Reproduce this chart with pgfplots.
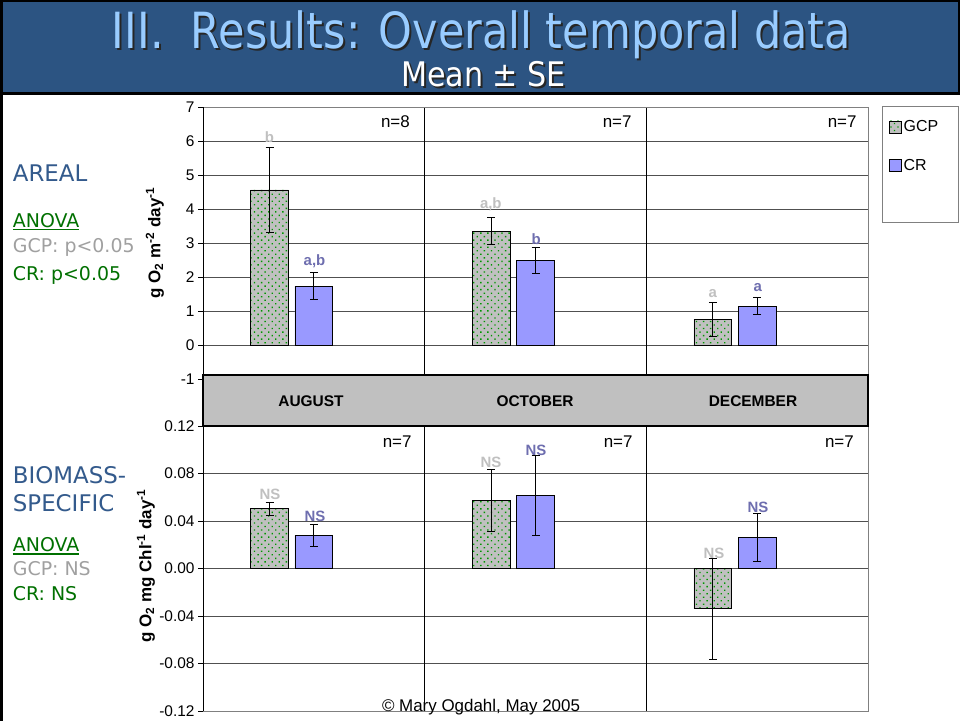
\documentclass[border=0pt]{standalone}
\usepackage{fontspec}
\setmainfont{Liberation Sans}
\newfontfamily\tahoma{DejaVu Sans}
\usepackage{graphicx}
\usepackage{pgfplots}
\pgfplotsset{compat=1.18}
\usetikzlibrary{patterns.meta}

\definecolor{titlebg}{RGB}{44,84,130}
\definecolor{titlefg}{RGB}{153,204,255}
\definecolor{headblue}{RGB}{51,90,140}
\definecolor{anovagreen}{RGB}{0,112,0}
\definecolor{gcptext}{RGB}{160,160,160}
\definecolor{gcplab}{RGB}{192,192,192}
\definecolor{crlab}{RGB}{110,110,175}
\definecolor{gcpfill}{RGB}{192,192,192}
\definecolor{gcpdot}{RGB}{0,150,0}
\definecolor{crfill}{RGB}{153,153,255}
\definecolor{bandgray}{RGB}{192,192,192}
\definecolor{gridc}{RGB}{80,80,80}
\definecolor{boxgray}{RGB}{128,128,128}

\newcommand\anovaline[1]{\setbox0\hbox{#1}\rlap{\rule[-3bp]{\wd0}{1.5bp}}\box0}

\pgfplotsset{
  panel/.style={
    scale only axis, width=665bp,
    xmin=0, xmax=3, xtick=\empty,
    ytick pos=left, tick align=outside, major tick length=5bp,
    tick style={black, line width=0.8bp},
    axis line style={draw=none},
    ymajorgrids, major grid style={gridc, line width=0.8bp},
    clip=false,
    /pgf/number format/assume math mode=true,
    yticklabel style={font=\fontsize{15.5}{16}\selectfont},
    ylabel style={font=\bfseries\fontsize{17}{17}\selectfont, anchor=center},
  },
  sq legend/.style={legend image code/.code={\draw[##1,/tikz/.cd] (0bp,-6bp) rectangle (12bp,6bp);}},
  gcp/.style={ybar, bar width=37.7bp, bar shift=0pt, draw=black, line width=0.8bp,
    fill=gcpfill,
    postaction={pattern={Dots[distance=5bp, radius=0.95bp, angle=45]}, pattern color=gcpdot},
    sq legend,
    error bars/.cd, y dir=both, y explicit,
    error bar style={black, line width=0.8bp},
    error mark options={black, rotate=90, mark size=4bp, line width=0.8bp}},
  cr/.style={ybar, bar width=37.7bp, bar shift=0pt, draw=black, line width=0.8bp,
    fill=crfill, sq legend,
    error bars/.cd, y dir=both, y explicit,
    error bar style={black, line width=0.8bp},
    error mark options={black, rotate=90, mark size=4bp, line width=0.8bp}},
}

\begin{document}
\begin{tikzpicture}
% page frame in pixel-like units, measured from the top-left corner
\begin{scope}[x=1bp, y=-1bp]
\useasboundingbox (0,0) rectangle (960,721);
\fill[white] (0,0) rectangle (960,721);

% title bar
\fill[titlebg] (0,0) rectangle (960,94);
\draw[black, line width=2.5bp] (1.25,1.25) rectangle (958.75,93.5);
\draw[black, line width=2.5bp] (1.5,93) -- (1.5,721);
\node[anchor=base, inner sep=0, text=black!85] at (483.5,51)
  {\resizebox{739bp}{\height}{\tahoma\fontsize{50}{50}\selectfont III.\ \ Results: Overall temporal data}};
\node[anchor=base, inner sep=0, text=titlefg] at (481.5,49)
  {\resizebox{739bp}{\height}{\tahoma\fontsize{50}{50}\selectfont III.\ \ Results: Overall temporal data}};
\node[anchor=base, inner sep=0, text=black!85] at (485.5,89)
  {\resizebox{165bp}{\height}{\tahoma\fontsize{34}{34}\selectfont Mean ± SE}};
\node[anchor=base, inner sep=0, text=white] at (483.5,87)
  {\resizebox{165bp}{\height}{\tahoma\fontsize{34}{34}\selectfont Mean ± SE}};

% side notes
\begin{scope}[every node/.style={anchor=base west, inner sep=0}]
\node[text=headblue, font=\tahoma\fontsize{23}{23}\selectfont] at (12.7,181.7) {AREAL};
\node[text=anovagreen, font=\tahoma\fontsize{19}{20}\selectfont] at (12.7,227.3) {\anovaline{ANOVA}};
\node[text=gcptext, font=\tahoma\fontsize{19}{20}\selectfont] at (12.7,252) {GCP: p<0.05};
\node[text=anovagreen, font=\tahoma\fontsize{19}{20}\selectfont] at (12.7,280.7) {CR: p<0.05};
\node[text=headblue, font=\tahoma\fontsize{23}{23}\selectfont] at (12.7,483.3) {BIOMASS-};
\node[text=headblue, font=\tahoma\fontsize{23}{23}\selectfont] at (12.7,511.7) {SPECIFIC};
\node[text=anovagreen, font=\tahoma\fontsize{19}{20}\selectfont] at (12.7,551.7) {\anovaline{ANOVA}};
\node[text=gcptext, font=\tahoma\fontsize{19}{20}\selectfont] at (12.7,575) {GCP: NS};
\node[text=anovagreen, font=\tahoma\fontsize{19}{20}\selectfont] at (12.7,600) {CR: NS};
\end{scope}

% legend frame
\draw[boxgray, fill=white, line width=1bp] (882.5,107) rectangle (958,222);
\end{scope}

% areal rates
\begin{axis}[panel, at={(203bp,-379bp)}, anchor=south west, height=272bp,
  ymin=-1, ymax=7, ytick={-1,0,1,2,3,4,5,6,7},
  ylabel={g O\textsubscript{2} m\textsuperscript{-2} day\textsuperscript{-1}},
  ylabel style={at={(axis description cs:-0.0722,0.5)}},
  legend style={at={(axis description cs:1.031,0.958)}, anchor=north west,
    draw=none, fill=none, inner sep=0pt, row sep=22bp,
    font=\fontsize{16}{16}\selectfont, nodes={inner sep=2bp}},
  legend cell align=left]
\addplot[gcp] coordinates {(0.3,4.56) +- (0,1.25) (1.3,3.35) +- (0,0.39) (2.3,0.755) +- (0,0.50)};
\addlegendentry{GCP}
\addplot[cr] coordinates {(0.5,1.735) +- (0,0.39) (1.5,2.49) +- (0,0.395) (2.5,1.147) +- (0,0.25)};
\addlegendentry{CR}
\draw[black, line width=0.8bp] (axis cs:1,-1) -- (axis cs:1,7);
\draw[black, line width=0.8bp] (axis cs:2,-1) -- (axis cs:2,7);
\draw[boxgray, line width=0.8bp] (rel axis cs:0,1) -- (rel axis cs:1,1) -- (rel axis cs:1,0);
\draw[black, line width=0.8bp] (rel axis cs:0,0) -- (rel axis cs:0,1);
\end{axis}

% biomass-specific rates
\begin{axis}[panel, at={(203bp,-711bp)}, anchor=south west, height=285bp,
  ymin=-0.12, ymax=0.12, ytick={-0.12,-0.08,-0.04,0,0.04,0.08,0.12},
  yticklabel style={/pgf/number format/.cd, fixed, fixed zerofill, precision=2},
  ylabel={g O\textsubscript{2} mg Chl\textsuperscript{-1} day\textsuperscript{-1}},
  ylabel style={at={(axis description cs:-0.0857,0.509)}}]
\addplot[gcp] coordinates {(0.3,0.0504) +- (0,0.0056) (1.3,0.0574) +- (0,0.026) (2.3,-0.034) +- (0,0.0423)};
\addplot[cr] coordinates {(0.5,0.0278) +- (0,0.0094) (1.5,0.0616) +- (0,0.0334) (2.5,0.0262) +- (0,0.0203)};
\draw[black, line width=0.8bp] (axis cs:1,-0.12) -- (axis cs:1,0.12);
\draw[black, line width=0.8bp] (axis cs:2,-0.12) -- (axis cs:2,0.12);
\draw[boxgray, line width=0.8bp] (rel axis cs:0,0) -- (rel axis cs:1,0) -- (rel axis cs:1,1);
\draw[black, line width=0.8bp] (rel axis cs:0,0) -- (rel axis cs:0,1);
\end{axis}

\begin{scope}[x=1bp, y=-1bp]
% month band
\draw[black, fill=bandgray, line width=1.5bp] (203,375) rectangle (868,426);
\begin{scope}[every node/.style={font=\bfseries\fontsize{15.5}{16}\selectfont, inner sep=0}]
\node at (311,401) {AUGUST};
\node at (535,401) {OCTOBER};
\node at (753,401) {DECEMBER};
\end{scope}

% sample sizes
\begin{scope}[every node/.style={anchor=east, inner sep=0, font=\fontsize{17}{17}\selectfont}]
\node at (410,121.5) {n=8};
\node at (631.7,121.5) {n=7};
\node at (856.7,121.5) {n=7};
\node at (411.7,441.5) {n=7};
\node at (632.7,441.5) {n=7};
\node at (854,441.5) {n=7};
\end{scope}

% significance letters
\begin{scope}[every node/.style={inner sep=0, font=\bfseries\fontsize{15}{15}\selectfont}]
\node[text=gcplab] at (269.5,136.7) {b};
\node[text=crlab] at (314.5,261.7) {a,b};
\node[text=gcplab] at (490.8,204) {a,b};
\node[text=crlab] at (536.2,239) {b};
\node[text=gcplab] at (712.8,293.3) {a};
\node[text=crlab] at (757.8,287.3) {a};
\node[text=gcplab] at (270,494) {NS};
\node[text=crlab] at (315,516.7) {NS};
\node[text=gcplab] at (491,462.3) {NS};
\node[text=crlab] at (536,450) {NS};
\node[text=gcplab] at (714,553.3) {NS};
\node[text=crlab] at (758,507.3) {NS};
\end{scope}

\node[inner sep=0, font=\fontsize{17}{17}\selectfont] at (481,707) {© Mary Ogdahl, May 2005};
\end{scope}
\end{tikzpicture}
\end{document}
